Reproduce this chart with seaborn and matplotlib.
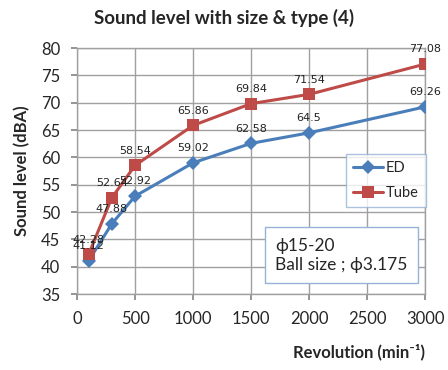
import matplotlib
matplotlib.use("Agg")
import matplotlib.pyplot as plt
import seaborn as sns
import pandas as pd

revolution = [100, 300, 500, 1000, 1500, 2000, 3000]
ed = [41.12, 47.88, 52.92, 59.02, 62.58, 64.5, 69.26]
tube = [42.28, 52.64, 58.54, 65.86, 69.84, 71.54, 77.08]
series_names = ["ED", "Tube"]
x_ticks = [0, 500, 1000, 1500, 2000, 2500, 3000]
y_ticks = [35, 40, 45, 50, 55, 60, 65, 70, 75, 80]

sns.set_theme(style="white")
plt.rcParams["font.family"] = ["Lato", "DejaVu Sans"]

df = pd.DataFrame({
    "rev": revolution * 2,
    "val": ed + tube,
    "series": [series_names[0]] * len(ed) + [series_names[1]] * len(tube),
})

fig = plt.figure(figsize=(4.48, 3.70), dpi=100)
ax = fig.add_axes([0.172, 0.205, 0.777, 0.665])

colors = {"ED": "#4A7EBB", "Tube": "#BE4B48"}
markers = {"ED": "D", "Tube": "s"}
for name in series_names:
    sub = df[df["series"] == name]
    sns.lineplot(data=sub, x="rev", y="val", ax=ax, color=colors[name],
                 marker=markers[name], markersize=7 if name == "ED" else 8,
                 markeredgewidth=0, linewidth=2.2, label=name, zorder=3)

for x, y in zip(revolution, ed):
    ax.annotate(f"{y:g}", (x, y), xytext=(0, 7), textcoords="offset points",
                ha="center", va="bottom", fontsize=8, color="#222222",
                family=["DejaVu Sans"], zorder=4)
for x, y in zip(revolution, tube):
    ax.annotate(f"{y:g}", (x, y), xytext=(0, 7), textcoords="offset points",
                ha="center", va="bottom", fontsize=8, color="#222222",
                family=["DejaVu Sans"], zorder=4)

ax.set_xlim(0, 3000)
ax.set_ylim(35, 80)
ax.set_xticks(x_ticks)
ax.set_yticks(y_ticks)
ax.tick_params(axis="both", labelsize=12, length=4, color="#888888",
               direction="out", pad=8, bottom=True, left=True)
ax.grid(True, color="#A0A0A0", linewidth=1)
for s in ax.spines.values():
    s.set_color("#A0A0A0")
    s.set_linewidth(1)

ax.set_xlabel("Revolution (min\u207b\u00b9)", fontsize=12, fontweight="bold")
ax.xaxis.set_label_coords(1.0, -0.2)
ax.xaxis.label.set_ha("right")
ax.set_ylabel("Sound level (dBA)", fontsize=12, fontweight="bold", labelpad=8)
fig.suptitle("Sound level with size & type (4)", fontsize=13.5, fontweight="bold",
             x=0.5, y=0.975)

leg = ax.legend(loc="upper left", bbox_to_anchor=(0.773, 0.569), frameon=True,
                fancybox=False, fontsize=10.5, handlelength=2.0, borderpad=0.5,
                labelspacing=0.7, handletextpad=0.2, borderaxespad=0)
leg.get_frame().set_edgecolor("#95B3D7")
leg.get_frame().set_linewidth(1)

ax.text(0.57, 0.23, "\u03d515-20\nBall size ; \u03d53.175", transform=ax.transAxes,
        fontsize=12.5, va="top", ha="left", linespacing=1.25,
        family=["Lato", "DejaVu Sans"],
        bbox=dict(boxstyle="square,pad=0.6", facecolor="white",
                  edgecolor="#95B3D7", linewidth=1), zorder=5)

fig.savefig("out.png", dpi=100)
